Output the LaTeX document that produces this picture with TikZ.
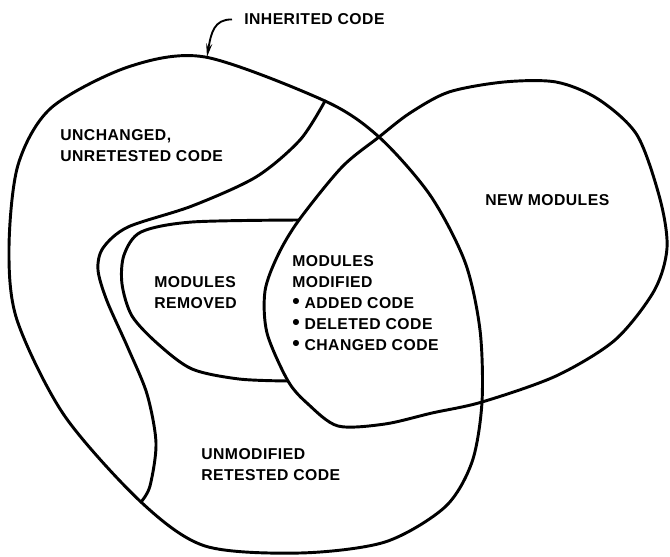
\documentclass[tikz,border=0pt]{standalone}
\usepackage{fontspec}
\setmainfont{Liberation Sans}[LetterSpace=3]
\usetikzlibrary{arrows.meta}
\newcommand\bigbul{\scalebox{1.35}{•}}
\begin{document}
\begin{tikzpicture}[x=0.75pt,y=-0.75pt,
  blob/.style={line width=2.2pt,line join=round,line cap=round},
  lbl/.style={inner sep=0pt,anchor=west,align=left,font=\bfseries\fontsize{11.8}{15.75}\selectfont},
  ptr/.style={line width=1.4pt,-{Stealth[length=10pt,width=4.5pt]}}]
\useasboundingbox (0,0) rectangle (670,556);
% outer blob: inherited code
\draw[blob] plot[smooth cycle] coordinates {
  (205,57) (325,101) (379,137) (430,195) (465,262) (480,330) (482,402)
  (472,462) (445,507) (385,542) (300,553) (205,546) (141,502) (64,415)
  (17,320) (9,248) (18,165) (51,108) (128,67)};
% boundary between unchanged/unretested and retested code
\draw[blob] plot[smooth] coordinates {
  (325,101) (300,140) (256,177) (192,206) (128,227) (103,248) (98,270)
  (107,301) (128,348) (147,394) (156,443) (150,486) (141,502)};
% new modules blob
\draw[blob] plot[smooth cycle] coordinates {
  (379,137) (342,167) (299,220) (278,255) (265,291) (267,333) (288,381)
  (308,404) (338,426) (385,424) (432,413) (482,402) (556,376) (615,340)
  (654,291) (667,248) (660,199) (637,135) (598,99) (556,82) (504,82)
  (449,92) (410,113)};
% modules removed
\draw[blob] plot[smooth] coordinates {
  (299,220) (192,222) (141,232) (124,255) (122,284) (132,316) (158,344)
  (192,369) (239,379) (288,381)};
% labels
\node[lbl] (inh) at (244,19.5) {INHERITED CODE};
\coordinate (tip) at (207,57);
\draw[ptr] ([xshift=-9pt]inh.west) .. controls (214,19) and (211,33) .. (tip);
\node[lbl] (unch) at (60,145.5) {UNCHANGED,\\UNRETESTED CODE};
\node[lbl] (new) at (485,200) {NEW MODULES};
\node[lbl] (rem) at (154,292.5) {MODULES\\REMOVED};
\node[lbl] (mod) at (292,303) {MODULES\\MODIFIED\\\bigbul\ ADDED CODE\\\bigbul\ DELETED CODE\\\bigbul\ CHANGED CODE};
\node[lbl] (ret) at (201,464.5) {UNMODIFIED\\RETESTED CODE};
\end{tikzpicture}
\end{document}
